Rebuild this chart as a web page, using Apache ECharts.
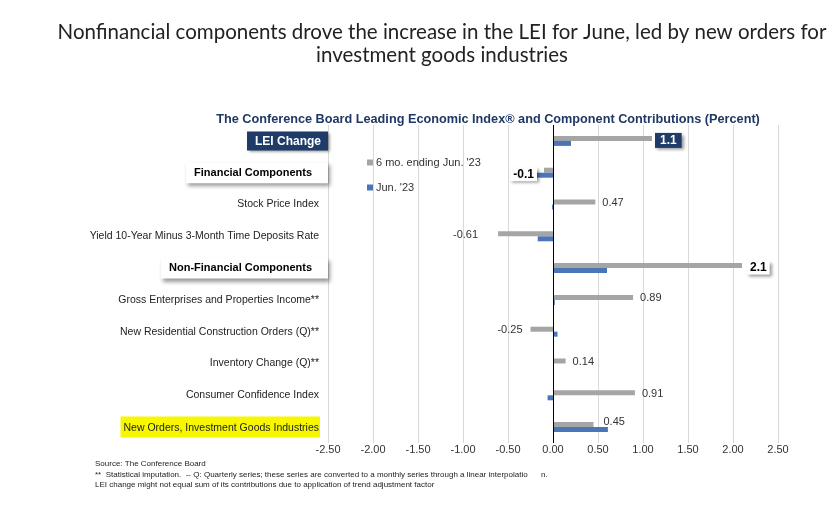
<!DOCTYPE html>
<html><head><meta charset="utf-8">
<script src="https://cdn.jsdelivr.net/npm/echarts@6/dist/echarts.min.js"></script>
<style>html,body{margin:0;padding:0;background:#fff}#c{width:838px;height:518px}</style>
</head><body><div id="c"></div>
<script>
const categories = [
  'LEI Change',
  'Financial Components',
  'Stock Price Index',
  'Yield 10-Year Minus 3-Month Time Deposits Rate',
  'Non-Financial Components',
  'Gross Enterprises and Properties Income**',
  'New Residential Construction Orders (Q)**',
  'Inventory Change (Q)**',
  'Consumer Confidence Index',
  'New Orders, Investment Goods Industries'
];
const sixMonth = [1.1, -0.1, 0.47, -0.61, 2.1, 0.89, -0.25, 0.14, 0.91, 0.45];
const june = [0.2, -0.18, -0.01, -0.17, 0.6, 0.02, 0.05, 0.0, -0.06, 0.61];
const xTicks = [-2.5, -2.0, -1.5, -1.0, -0.5, 0.0, 0.5, 1.0, 1.5, 2.0, 2.5];
const seriesNames = ["6 mo. ending Jun. '23", "Jun. '23"];

const F = 'Liberation Sans, Arial, sans-serif';
const chart = echarts.init(document.getElementById('c'));

const labelDist = [3, 7, 7, 20, 5, 7, 8, 7, 7, 10];
const labelOffset = [[0, 2], [0, 4], [0, 1], [0, 1], [0, 2], [0, 1], [0, 1], [0, 1], [0, 1], [0, -3]];
const sh = {shadowColor: 'rgba(0,0,0,0.4)', shadowBlur: 3, shadowOffsetX: 2, shadowOffsetY: 2};
const boxLabel = {
  0: Object.assign({backgroundColor: '#1f3b68', color: '#fff', fontWeight: 'bold', fontSize: 12, padding: [2, 5, 1, 5]}, sh),
  1: Object.assign({backgroundColor: '#fff', color: '#000', fontWeight: 'bold', fontSize: 12, padding: [1, 3, 1, 3]}, sh),
  4: Object.assign({backgroundColor: '#fff', color: '#000', fontWeight: 'bold', fontSize: 12, padding: [1, 3, 1, 3]}, sh)
};

const grayData = sixMonth.map((v, i) => {
  const lab = Object.assign({
    show: true,
    position: v >= 0 ? 'right' : 'left',
    distance: labelDist[i],
    offset: labelOffset[i],
    color: '#333', fontSize: 11, fontFamily: F,
    formatter: String(v)
  }, boxLabel[i] || {});
  return {value: v, label: lab};
});

const option = {
  animation: false,
  backgroundColor: '#fff',
  title: [
    {text: 'Nonfinancial components drove the increase in the LEI for June, led by new orders for\ninvestment goods industries',
     left: 437, top: 16, textAlign: 'center',
     textStyle: {fontFamily: 'Lato, sans-serif', fontWeight: 'normal', fontSize: 20.5, color: '#222', lineHeight: 23}},
    {text: 'The Conference Board Leading Economic Index\u00ae and Component Contributions (Percent)',
     left: 483, top: 108, textAlign: 'center',
     textStyle: {fontFamily: F, fontWeight: 'bold', fontSize: 12.7, color: '#1f3864'}},
    {text: "Source: The Conference Board\n**  Statistical imputation.  -- Q: Quarterly series; these series are converted to a monthly series through a linear interpolatio      n.\nLEI change might not equal sum of its contributions due to application of trend adjustment factor",
     left: 90, top: 454,
     textStyle: {fontFamily: F, fontWeight: 'normal', fontSize: 8, color: '#222', lineHeight: 10.3}}
  ],
  legend: {
    orient: 'vertical', left: 362, top: 152, itemGap: 14,
    itemWidth: 6, itemHeight: 6, icon: 'rect',
    textStyle: {fontFamily: F, fontSize: 11, color: '#333', padding: [0, 0, 0, -2]},
    data: seriesNames
  },
  grid: {left: 328, right: 60, top: 125, bottom: 75, containLabel: false},
  xAxis: {
    type: 'value', min: -2.5, max: 2.5, interval: 0.5,
    axisLine: {show: false}, axisTick: {show: false},
    splitLine: {show: true, lineStyle: {color: '#d9d9d9', width: 1}},
    axisLabel: {fontFamily: F, fontSize: 11, color: '#333', margin: 1,
      formatter: v => v.toFixed(2)}
  },
  yAxis: {
    type: 'category', inverse: true, data: categories,
    axisLine: {show: false}, axisTick: {show: false}, splitLine: {show: false},
    axisLabel: {
      margin: 0, fontFamily: F, fontSize: 10.5, color: '#222',
      formatter: (val) => {
        const i = categories.indexOf(val);
        if (i === 0) return '{lei|' + val + '}';
        if (i === 1 || i === 4) return '{hdr|' + val + '}';
        if (i === 9) return '{hl|' + val + '}{sp|}';
        return '{n|' + val + '}';
      },
      rich: {
        n: {fontFamily: F, fontSize: 10.5, color: '#222', padding: [0, 9, 0, 0]},
        sp: {width: 8, fontSize: 10.5},
        lei: {fontFamily: F, fontSize: 12, fontWeight: 'bold', color: '#fff', backgroundColor: '#1f3b68',
              padding: [4, 7, 3, 8], shadowColor: 'rgba(0,0,0,0.45)', shadowBlur: 3, shadowOffsetX: 2, shadowOffsetY: 2},
        hdr: {fontFamily: F, fontSize: 11, fontWeight: 'bold', color: '#000', backgroundColor: '#fff',
              padding: [5, 16, 5, 8], shadowColor: 'rgba(0,0,0,0.4)', shadowBlur: 4, shadowOffsetX: 2, shadowOffsetY: 3},
        hl: {fontFamily: F, fontSize: 10.5, color: '#222', backgroundColor: '#f7f700',
             padding: [6, 1, 4, 3]}
      }
    }
  },
  series: [
    {name: seriesNames[0], type: 'bar', data: grayData, barWidth: 5, barGap: '0%',
     itemStyle: {color: '#a5a5a5'}},
    {name: seriesNames[1], type: 'bar', data: june, barWidth: 5, barGap: '0%',
     itemStyle: {color: '#4a76b8'},
     markLine: {silent: true, symbol: 'none', label: {show: false},
       lineStyle: {color: '#000', width: 1, type: 'solid'}, data: [{xAxis: 0}]}}
  ]
};
chart.setOption(option);
</script></body></html>
